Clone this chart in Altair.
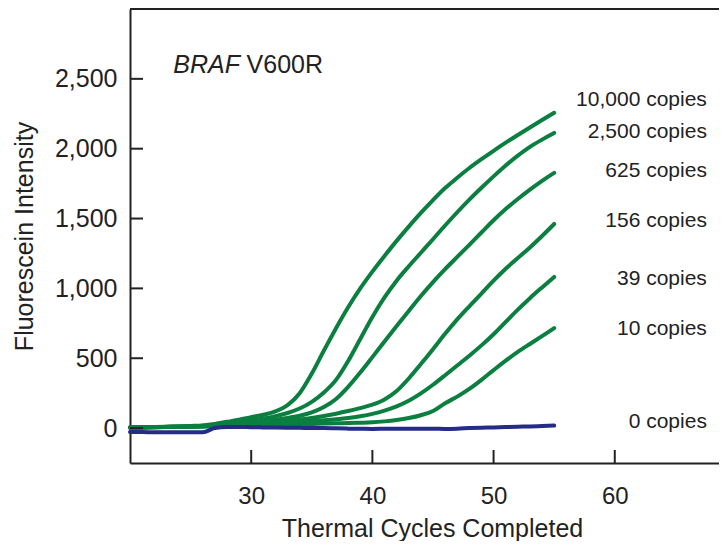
import altair as alt
import pandas as pd

# ---------------- data ----------------
cycles = list(range(20, 56))
series_names = ["10,000 copies", "2,500 copies", "625 copies", "156 copies",
                "39 copies", "10 copies", "0 copies"]

c10000 = [5, 6, 8, 10, 12, 15, 18, 30, 45, 60, 78, 95, 120, 165, 250, 390, 555, 715,
          865, 1000, 1120, 1232, 1340, 1442, 1540, 1632, 1718, 1792, 1862, 1925, 1985,
          2043, 2098, 2152, 2205, 2257]
c2500 = [5, 6, 7, 9, 11, 13, 16, 25, 35, 45, 55, 68, 85, 108, 140, 188, 255, 345,
         480, 638, 795, 935, 1055, 1158, 1255, 1352, 1450, 1545, 1635, 1720, 1802,
         1880, 1950, 2013, 2065, 2113]
c625 = [5, 6, 7, 8, 10, 12, 14, 22, 28, 34, 42, 50, 60, 72, 88, 112, 150, 208, 295,
        398, 508, 620, 730, 838, 945, 1045, 1138, 1225, 1312, 1400, 1488, 1568, 1640,
        1707, 1770, 1827]
c156 = [5, 5, 6, 8, 9, 11, 13, 18, 22, 26, 30, 37, 44, 52, 61, 72, 86, 103, 122, 143,
        168, 205, 265, 355, 458, 565, 675, 778, 872, 963, 1055, 1140, 1217, 1293,
        1375, 1461]
c39 = [4, 5, 6, 7, 8, 10, 12, 15, 18, 21, 25, 30, 35, 40, 45, 50, 56, 63, 72, 85, 102,
       125, 155, 195, 248, 310, 378, 448, 518, 592, 672, 760, 848, 930, 1007, 1082]
c10 = [4, 5, 6, 7, 8, 9, 11, 13, 15, 17, 20, 22, 24, 26, 28, 30, 32, 34, 36, 38, 41,
       48, 58, 72, 92, 122, 178, 225, 280, 345, 415, 483, 545, 602, 658, 716]
c0 = [-28, -28, -30, -30, -30, -30, -30, 0, 8, 8, 6, 5, 4, 3, 2, 0, 0, -2, -4, -5, -6,
      -5, -4, -4, -5, -5, -6, -4, 0, 3, 5, 8, 10, 12, 15, 18]

series_values = [c10000, c2500, c625, c156, c39, c10, c0]

x_ticks = [30, 40, 50, 60]
y_ticks = [0, 500, 1000, 1500, 2000, 2500]

# annotation anchors (data units)
label_cycle = 67.6
label_y = [2308, 2074, 1800, 1442, 1024, 666, 0]
title_cycle_a = 23.57
title_cycle_b = 29.62
title_y = 2540

# ---------------- build tables ----------------
rows = []
for name, vals in zip(series_names, series_values):
    for c, v in zip(cycles, vals):
        rows.append({"cycle": c, "value": v, "series": name})
df = pd.DataFrame(rows)
df_pos = df[df["series"] != "0 copies"]
df_neg = df[df["series"] == "0 copies"]

labels_df = pd.DataFrame({"cycle": [label_cycle] * len(series_names),
                          "value": label_y, "text": series_names})
title_a_df = pd.DataFrame({"cycle": [title_cycle_a], "value": [title_y], "text": ["BRAF"]})
title_b_df = pd.DataFrame({"cycle": [title_cycle_b], "value": [title_y], "text": ["V600R"]})

W, H = 589, 454
GREEN = "#0a7f40"
BLUE = "#252b87"
INK = "#222222"
FONT = "Liberation Sans"

xs = alt.Scale(domain=[20, 68.6], nice=False, zero=False)
ys = alt.Scale(domain=[-250, 3000], nice=False, zero=False)

x_axis = alt.Axis(values=x_ticks, ticks=False, grid=False, domainColor=INK,
                  domainWidth=2, labelFont=FONT, labelFontSize=24, labelColor=INK,
                  labelPadding=21, title="Thermal Cycles Completed", titleFont=FONT,
                  titleFontSize=25, titleFontWeight="normal", titleColor=INK,
                  titlePadding=8, titleX=302)
y_axis = alt.Axis(values=y_ticks, labelExpr="format(datum.value, ',')", ticks=False,
                  grid=False, domainColor=INK, domainWidth=2, labelFont=FONT,
                  labelFontSize=25, labelColor=INK, labelPadding=13,
                  title="Fluorescein Intensity", titleFont=FONT, titleFontSize=25,
                  titleFontWeight="normal", titleColor=INK, titlePadding=17)

X = alt.X("cycle:Q", scale=xs, axis=x_axis)
Y = alt.Y("value:Q", scale=ys, axis=y_axis)

green = alt.Chart(df_pos).mark_line(
    color=GREEN, strokeWidth=4, strokeCap="round", strokeJoin="round",
    interpolate="monotone"
).encode(x=X, y=Y, detail="series:N")

blue = alt.Chart(df_neg).mark_line(
    color=BLUE, strokeWidth=4, strokeCap="round", strokeJoin="round",
    interpolate="monotone"
).encode(x=X, y=Y)

ytick_rules = alt.Chart(pd.DataFrame({"value": y_ticks})).mark_rule(
    color=INK, strokeWidth=2
).encode(y=Y, x=alt.value(0), x2=alt.value(13))

xtick_rules = alt.Chart(pd.DataFrame({"cycle": x_ticks})).mark_rule(
    color=INK, strokeWidth=2
).encode(x=X, y=alt.value(H - 13), y2=alt.value(H))

top_border = alt.Chart(pd.DataFrame({"a": [0]})).mark_rule(
    color=INK, strokeWidth=2
).encode(x=alt.value(0), x2=alt.value(W), y=alt.value(0))

labels = alt.Chart(labels_df).mark_text(
    align="right", baseline="alphabetic", font=FONT, fontSize=21, color=INK
).encode(x=X, y=Y, text="text:N")

title_a = alt.Chart(title_a_df).mark_text(
    align="left", baseline="alphabetic", font=FONT, fontSize=25, fontStyle="italic",
    color=INK
).encode(x=X, y=Y, text="text:N")

title_b = alt.Chart(title_b_df).mark_text(
    align="left", baseline="alphabetic", font=FONT, fontSize=25, color=INK
).encode(x=X, y=Y, text="text:N")

chart = alt.layer(
    green, blue, ytick_rules, xtick_rules, top_border, labels, title_a, title_b
).properties(
    width=W, height=H,
    autosize=alt.AutoSizeParams(type="none"),
    padding={"left": 122, "top": 1, "right": 0, "bottom": 78},
).configure_view(stroke=None).configure(background="white")

chart.save("out.html", embed_options={"renderer": "svg", "actions": False})
